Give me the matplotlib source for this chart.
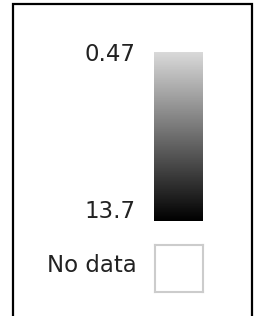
import numpy as np
import matplotlib
matplotlib.use("Agg")
import matplotlib.pyplot as plt
from matplotlib.colors import LinearSegmentedColormap, Normalize
from matplotlib.cm import ScalarMappable
from matplotlib.patches import Rectangle
from matplotlib.transforms import offset_copy

# legend values
vmin = 0.47
vmax = 13.7
tick_labels = ["0.47", "13.7"]
nodata_label = "No data"

W, H = 256, 316
fig = plt.figure(figsize=(W / 100, H / 100), dpi=100)
plt.rcParams['font.family'] = ['DejaVu Sans']

def fx(px):
    return px / W

def fy(py):
    return 1 - py / H

# outer frame
fig.patches.append(Rectangle((fx(13), fy(330)), fx(252) - fx(13), fy(4) - fy(330),
                             transform=fig.transFigure, fill=False,
                             edgecolor='black', linewidth=1.6))

cmap = LinearSegmentedColormap.from_list("greys", ["#d9d9d9", "#000000"])
norm = Normalize(vmin=vmin, vmax=vmax)

cax = fig.add_axes([fx(154), fy(221), fx(203) - fx(154), fy(52) - fy(221)])
cb = fig.colorbar(ScalarMappable(norm=norm, cmap=cmap), cax=cax, ticks=[])
cb.outline.set_visible(False)
cax.invert_yaxis()

# labels next to the ends of the bar (offsets in points)
for val, lab, dy in zip([vmin, vmax], tick_labels, [-2, 6.5]):
    tr = offset_copy(cax.transData, fig=fig, x=-13, y=dy, units='points')
    cax.text(0, val, lab, transform=tr, ha='right', va='center',
             fontsize=16.5, color='#222222')

# no data box
nax = fig.add_axes([fx(155), fy(292), fx(203) - fx(155), fy(245) - fy(292)])
nax.set_xticks([])
nax.set_yticks([])
for s in nax.spines.values():
    s.set_color('#cccccc')
    s.set_linewidth(1.5)
fig.text(fx(137), fy(266), nodata_label, ha='right', va='center', fontsize=16.5, color='#222222')

fig.savefig("out.png", dpi=100)
